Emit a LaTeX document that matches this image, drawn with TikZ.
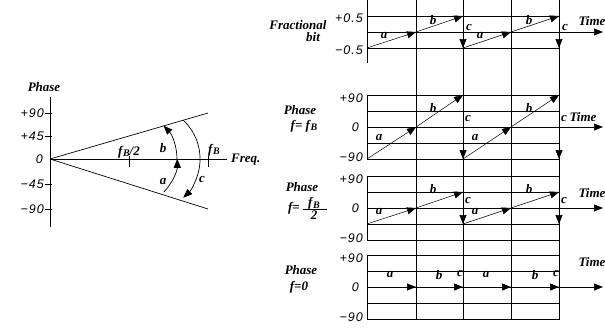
\documentclass[tikz,border=0pt]{standalone}
\usepackage{amsmath}
\usepackage{fontspec}
\setmainfont{Liberation Serif}
\newfontfamily\numfont[LetterSpace=8]{Liberation Sans}
\usetikzlibrary{arrows.meta}
\newcommand{\fB}{f\kern0.6pt\raisebox{-1.5pt}{\fontsize{10}{10}\selectfont B}}

\begin{document}
\begin{tikzpicture}[x=1pt, y=-1pt, >={Triangle[length=9pt,width=7pt]},
    lbl/.style={font=\fontsize{13}{15}\selectfont\bfseries\itshape, inner sep=0pt},
    num/.style={font=\fontsize{12.5}{14}\selectfont\numfont\itshape, inner sep=0pt, anchor=east},
    rule/.style={line width=0.7pt},
    ramp/.style={line width=0.5pt, ->}]
    \useasboundingbox (0,0) rectangle (605,332);

    % Phase vs frequency
    \draw[rule] (50,97) -- (50,227);
    \draw[rule] (50,159) -- (227,159);
    \node[lbl] (phaseL) at (44,87) {Phase};
    \node[lbl, anchor=west] (freq) at (231,160) {Freq.};
    \foreach \yy/\tx in {113/+90, 136/+45, 184/−45, 209/−90} {
        \draw[rule] (45,\yy) -- (52,\yy);
        \node[num] at (44,\yy) {\tx};
    }
    \node[num] (zeroL) at (43,159) {0};

    % Phase limits
    \coordinate (orig) at (50,159);
    \coordinate (upper) at (208,113);
    \coordinate (lower) at (208,209);
    \draw[rule] (orig) -- (upper);
    \draw[rule] (orig) -- (lower);

    % Frequency ticks
    \draw[rule] (129,156) -- (129,167);
    \draw[rule] (208,156) -- (208,167);
    \node[lbl] (halfB) at (129,152) {\fB/2};
    \node[lbl] (fullB) at (214,150) {\fB};

    % Phase swing
    \draw[rule, ->] (163.8,192.1) arc[start angle=44, end angle=0, radius=48];
    \draw[rule, ->] (177,159) arc[start angle=0, end angle=-44, radius=48];
    \draw[rule, ->] (183.2,120.2) arc[start angle=-47, end angle=47, radius=53];
    \node[lbl] (swingA) at (163,182) {a};
    \node[lbl] (swingB) at (163,148) {b};
    \node[lbl] (swingC) at (202,179) {c};

    % Time grid
    \foreach \xx in {416,463,511,559}
        \draw[rule] (\xx,0) -- (\xx,319);

    % Fractional bit
    \draw[rule] (367,0) -- (367,63);
    \draw[rule] (367,16) -- (559,16);
    \draw[rule] (367,48) -- (559,48);
    \draw[rule, ->] (367,32) -- (603,32);
    \node[lbl, anchor=base] (frac) at (298,29) {Fractional};
    \node[lbl, anchor=base] (bit) at (313,41) {bit};
    \node[num] at (363,18) {+0.5};
    \node[num] at (363,50) {−0.5};
    \node[lbl] (time1) at (592,21) {Time};

    % Phase panels
    \foreach \top in {95,176,255} {
        \draw[rule] (367,\top) rectangle (559,\top+64);
        \draw[rule] (367,\top+16) -- (559,\top+16);
        \draw[rule] (367,\top+48) -- (559,\top+48);
        \draw[rule, ->] (367,\top+32) -- (603,\top+32);
        \node[num] at (363,\top+3) {+90};
        \node[num] at (359,\top+32) {0};
        \node[num] at (363,\top+62) {−90};
    }
    \node[lbl] (phase2) at (300,110) {Phase};
    \node[lbl] (freq2) at (304,126) {f= \fB};
    \node[lbl] (time2) at (583,117) {Time};
    \node[lbl] (phase3) at (302,187) {Phase};
    \node[lbl, anchor=east] (freq3) at (300,208) {f=};
    \node[lbl] (num3) at (314,203.5) {\fB};
    \draw[rule] (303,209) -- (327,209);
    \node[lbl] (den3) at (314,215.5) {2};
    \node[lbl] (time3) at (592,193) {Time};
    \node[lbl] (phase4) at (301,270) {Phase};
    \node[lbl] (freq4) at (299,287) {f=0};
    \node[lbl] (time4) at (592,262) {Time};

    % Ramps a, b and drop c
    \foreach \xa/\xb/\xc in {367/416/463, 463/511/559} {
        \draw[ramp] (\xa,48) -- (\xb,32);
        \draw[ramp] (\xb,32) -- (\xc,16);
        \draw[rule, ->] (\xc,16) -- (\xc,48);
        \node[lbl] at (\xa+17,36) {a};
        \node[lbl] at (\xa+66,20) {b};
        \node[lbl] at (\xa+102,27) {c};

        \draw[ramp] (\xa,159) -- (\xb,127);
        \draw[ramp] (\xb,127) -- (\xc,95);
        \draw[rule, ->] (\xc,95) -- (\xc,159);
        \node[lbl] at (\xa+12,138) {a};
        \node[lbl] at (\xa+66,108) {b};
        \node[lbl] at (\xa+101,118) {c};

        \draw[ramp] (\xa,224) -- (\xb,208);
        \draw[ramp] (\xb,208) -- (\xc,192);
        \draw[rule, ->] (\xc,192) -- (\xc,224);
        \node[lbl] at (\xa+12,212) {a};
        \node[lbl] at (\xa+66,189) {b};
        \node[lbl] at (\xa+101,200) {c};

        \draw[rule, ->] (\xa,287) -- (\xb,287);
        \draw[rule, ->] (\xb,287) -- (\xc,287);
        \node[lbl] at (\xa+23,275) {a};
        \node[lbl] at (\xa+72,275) {b};
        \node[lbl] at (\xa+93,273) {c};
    }

\end{tikzpicture}
\end{document}
